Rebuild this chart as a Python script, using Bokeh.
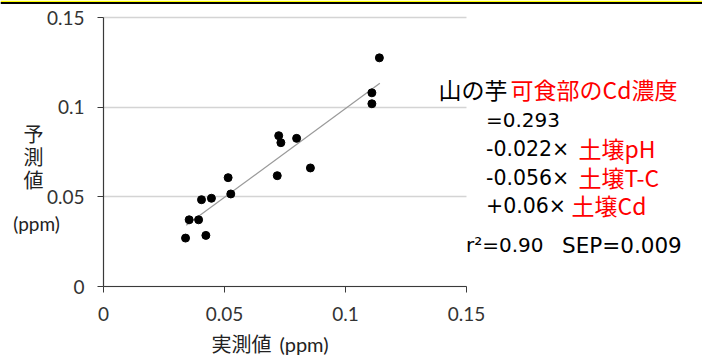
from bokeh.plotting import figure
from bokeh.models import Range1d, Label, FixedTicker, ColumnDataSource, BoxAnnotation
from bokeh.embed import file_html
from bokeh.resources import INLINE

# ---- data ----
actual = [0.1140, 0.1109, 0.1109, 0.0724, 0.0733, 0.0798, 0.0855, 0.0718,
          0.0515, 0.0526, 0.0405, 0.0446, 0.0354, 0.0393, 0.0339, 0.0423]
predicted = [0.1275, 0.1080, 0.1019, 0.0841, 0.0802, 0.0826, 0.0661, 0.0618,
             0.0607, 0.0516, 0.0484, 0.0492, 0.0372, 0.0372, 0.0270, 0.0285]
trend_x = [0.0342, 0.1142]
trend_y = [0.0341, 0.1133]
x_ticks = [0, 0.05, 0.1, 0.15]
y_ticks = [0, 0.05, 0.1, 0.15]
tick_text = ["0", "0.05", "0.1", "0.15"]
axis_bounds = (0, 0.15)

x_title = "実測値"
x_unit = "(ppm)"
y_title_chars = ["予", "測", "値"]
y_unit = "(ppm)"

# ---- layout: plot area in canvas pixels ----
W, H = 702, 358
PX0, PX1 = 103, 466      # pixel of x = 0 and x = 0.15
PY0, PY1 = 286, 17       # pixel of y = 0 and y = 0.15
SX = 0.15 / (PX1 - PX0)
SY = 0.15 / (PY0 - PY1)


def dx(px):
    return (px - PX0) * SX


def dy(py):
    return (PY0 - py) * SY


p = figure(width=W, height=H, output_backend="svg", toolbar_location=None,
           x_range=Range1d(dx(0), dx(W)), y_range=Range1d(dy(H), dy(0)),
           min_border=0)
p.outline_line_color = None
p.border_fill_color = "white"
p.background_fill_color = "white"

for ax, ticks in ((p.xaxis[0], x_ticks), (p.yaxis[0], y_ticks)):
    ax.fixed_location = 0
    ax.bounds = axis_bounds
    ax.ticker = FixedTicker(ticks=ticks)
    ax.major_label_overrides = {t: s for t, s in zip(ticks, tick_text)}
    ax.minor_tick_line_color = None
    ax.major_tick_in = 0
    ax.major_tick_out = 6
    ax.axis_line_color = "#3a3a3a"
    ax.major_tick_line_color = "#3a3a3a"
    ax.axis_line_width = 1.2
    ax.major_label_text_font = "Lato"
    ax.major_label_text_font_size = "19px"
    ax.major_label_text_color = "#333333"
p.xaxis.major_label_standoff = 14
p.yaxis.major_label_standoff = 13

p.xgrid.grid_line_color = None
p.ygrid.ticker = FixedTicker(ticks=y_ticks)
p.ygrid.grid_line_color = "#d4d4d4"
p.ygrid.grid_line_width = 1.5
p.ygrid.bounds = axis_bounds
if "cross_bounds" in p.ygrid[0].properties():
    p.ygrid.cross_bounds = axis_bounds
else:
    p.ygrid.grid_line_color = None
    p.segment(x0=[axis_bounds[0]] * len(y_ticks), x1=[axis_bounds[1]] * len(y_ticks),
              y0=y_ticks, y1=y_ticks, line_color="#d4d4d4", line_width=1.5)

# top decoration (yellow + black rule)
p.add_layout(BoxAnnotation(top=dy(0), bottom=dy(1.6), fill_color="#ffff00",
                           fill_alpha=1, line_color=None))
p.add_layout(BoxAnnotation(top=dy(1.6), bottom=dy(3.4), fill_color="#000000",
                           fill_alpha=1, line_color=None))

src = ColumnDataSource(dict(x=actual, y=predicted))
p.line(trend_x, trend_y, line_color="#9a9a9a", line_width=1.2)
p.scatter("x", "y", source=src, size=8, fill_color="black", line_color="black")


def lab(text, px, py, font, size, color, align="left"):
    p.add_layout(Label(x=dx(px), y=dy(py), text=text, text_font=font,
                       text_font_size=size, text_color=color,
                       text_align=align, text_baseline="middle"))


CJK = "Noto Sans CJK JP"
LAT = "DejaVu Sans"

# axis titles
for ch, yy in zip(y_title_chars, [133, 156, 179]):
    lab(ch, 33, yy, CJK, "20px", "#222222", "center")
lab(y_unit, 36, 223, "Lato", "19px", "#222222", "center")
lab(x_title, 211, 343, CJK, "20px", "#222222")
lab(x_unit, 279, 343.5, "Lato", "20px", "#222222")

# regression formula
lab("山の芋", 438, 88, CJK, "23px", "black")
lab("可食部のCd濃度", 510, 88, CJK, "23px", "#ff0000")
lab("=0.293", 485.5, 119, LAT, "20px", "black")
lab("-0.022×", 485.5, 148.5, LAT, "20.5px", "black")
lab("土壌pH", 578, 147.5, CJK, "23px", "#ff0000")
lab("-0.056×", 485.5, 177, LAT, "20.5px", "black")
lab("土壌T-C", 578, 176, CJK, "23px", "#ff0000")
lab("+0.06×", 485.5, 205.5, LAT, "20.5px", "black")
lab("土壌Cd", 571, 204.5, CJK, "23px", "#ff0000")
lab("r²=0.90", 465.5, 244.5, LAT, "20px", "black")
lab("SEP=0.009", 561.5, 244.5, LAT, "21.5px", "black")

open("out.html", "w").write(file_html(p, INLINE))
